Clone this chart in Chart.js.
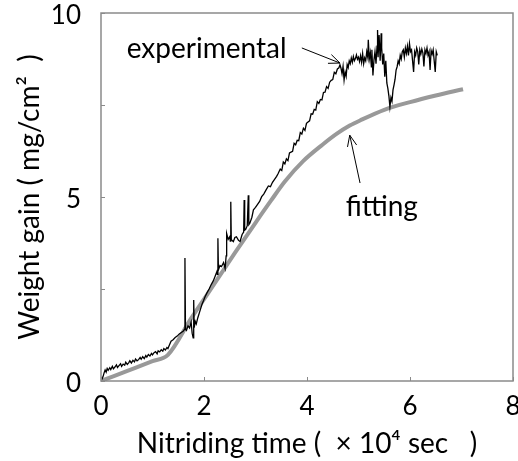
<!DOCTYPE html>
<html>
<head>
<meta charset="utf-8">
<script src="https://cdn.jsdelivr.net/npm/chart.js@4.4.0/dist/chart.umd.min.js"></script>
<style>
  html, body { margin: 0; padding: 0; background: #fff; }
  #wrap { width: 518px; height: 461px; }
</style>
</head>
<body>
<div id="wrap"><canvas id="chart" width="518" height="461"></canvas></div>
<script>
// experimental weight gain
const expTime = [
  0, 0.02, 0.04, 0.06, 0.08, 0.10, 0.12, 0.14, 0.17, 0.19, 0.22, 0.24, 0.27, 0.30, 0.32, 0.35, 0.38, 0.40, 0.43, 0.46,
  0.48, 0.51, 0.54, 0.56, 0.59, 0.62, 0.65, 0.67, 0.70, 0.73, 0.76, 0.78, 0.81, 0.84, 0.87, 0.89, 0.92, 0.95, 0.98, 1.00,
  1.03, 1.06, 1.09, 1.11, 1.14, 1.17, 1.20, 1.22, 1.25, 1.28, 1.30,
  1.32, 1.36, 1.40, 1.44, 1.48, 1.52, 1.56, 1.60, 1.62, 1.63, 1.64, 1.66, 1.69, 1.72, 1.75, 1.77, 1.79, 1.80, 1.81,
  1.83, 1.85, 1.88, 1.92, 1.96, 1.99,
  2.02, 2.06, 2.10, 2.14, 2.18, 2.22, 2.25, 2.26, 2.27, 2.28, 2.31, 2.34, 2.38, 2.41, 2.43, 2.44, 2.47, 2.50, 2.51,
  2.52, 2.53, 2.57, 2.60, 2.63, 2.67, 2.70, 2.74, 2.77, 2.78, 2.79, 2.81, 2.84, 2.86, 2.87, 2.89, 2.93, 2.96, 3.00,
  3.04, 3.08, 3.12, 3.16, 3.20, 3.25, 3.29, 3.33, 3.37, 3.41, 3.44,
  3.48, 3.51, 3.54, 3.57, 3.60, 3.63, 3.66, 3.69, 3.72, 3.75, 3.78, 3.81, 3.84, 3.87, 3.90, 3.93, 3.96, 3.99, 4.02, 4.05,
  4.08, 4.11, 4.14, 4.17, 4.20, 4.23, 4.26, 4.29, 4.32, 4.35, 4.38, 4.41, 4.44, 4.47, 4.50, 4.53, 4.56, 4.59, 4.62, 4.64,
  4.66, 4.68, 4.70, 4.72, 4.74, 4.76, 4.78, 4.80, 4.82, 4.84, 4.86, 4.88, 4.90, 4.92, 4.94, 4.96, 4.98, 5.00, 5.02, 5.04,
  5.06, 5.08, 5.10, 5.12, 5.14, 5.16, 5.18, 5.19, 5.21, 5.23, 5.25, 5.26, 5.28, 5.30, 5.32, 5.34, 5.36, 5.37, 5.38, 5.40,
  5.42, 5.44, 5.45, 5.47, 5.49, 5.51, 5.53, 5.55, 5.57, 5.59, 5.61, 5.63, 5.65, 5.67, 5.69, 5.71, 5.73, 5.75, 5.77, 5.79,
  5.81, 5.83, 5.85, 5.87, 5.89, 5.91, 5.93, 5.95, 5.97, 5.99, 6.01, 6.03, 6.05, 6.07, 6.09, 6.11, 6.13, 6.15, 6.17, 6.19,
  6.21, 6.23, 6.25, 6.27, 6.29, 6.31, 6.33, 6.35, 6.37, 6.39, 6.41, 6.43, 6.45, 6.47, 6.49, 6.51, 6.53
];
const expGain = [
  0.03, 0.05, 0.12, 0.22, 0.30, 0.24, 0.34, 0.29, 0.36, 0.31, 0.40, 0.33, 0.38, 0.44, 0.37, 0.42, 0.47, 0.40, 0.46, 0.43,
  0.51, 0.45, 0.50, 0.55, 0.49, 0.56, 0.52, 0.60, 0.55, 0.58, 0.64, 0.59, 0.66, 0.61, 0.69, 0.65, 0.72, 0.68, 0.75, 0.71,
  0.77, 0.80, 0.74, 0.82, 0.79, 0.85, 0.81, 0.88, 0.84, 0.91, 0.88,
  0.95, 1.08, 1.12, 1.18, 1.22, 1.28, 1.32, 1.36, 1.40, 3.34, 1.42, 1.38, 1.50, 1.44, 1.60, 1.30, 1.17, 2.20, 1.45,
  1.62, 1.55, 1.72, 1.90, 2.08, 2.18,
  2.29, 2.40, 2.50, 2.62, 2.72, 2.86, 2.97, 2.90, 3.88, 3.02, 3.14, 3.11, 3.22, 3.06, 3.40, 4.01, 3.85, 3.92, 3.80,
  4.87, 3.84, 3.79, 3.90, 3.92, 3.82, 3.79, 3.98, 4.05, 4.92, 4.10, 4.12, 4.22, 5.05, 4.25, 4.29, 4.45, 4.65, 4.72,
  4.80, 4.88, 5.01, 5.08, 5.18, 5.30, 5.28, 5.40, 5.48, 5.56, 5.64,
  5.76, 5.72, 5.95, 5.90, 6.04, 5.99, 6.20, 6.22, 6.24, 6.46, 6.42, 6.54, 6.53, 6.75, 6.71, 6.87, 6.81, 7.00, 7.04, 7.07,
  7.26, 7.25, 7.38, 7.36, 7.59, 7.54, 7.65, 7.64, 7.84, 7.85, 8.00, 7.95, 8.12, 8.17, 8.19, 8.39, 8.35, 8.48, 8.51, 8.59,
  8.50, 8.35, 8.55, 8.18, 8.40, 8.28, 8.60, 8.52, 8.70, 8.62, 8.78, 8.66, 8.82, 8.70, 8.76, 8.86, 8.74, 8.80, 8.68, 8.84,
  8.66, 8.90, 8.62, 8.78, 8.70, 8.95, 8.80, 9.27, 8.75, 8.92, 8.54, 9.00, 8.30, 8.72, 8.95, 8.62, 9.10, 9.54, 8.80, 9.40,
  8.70, 9.45, 9.05, 8.60, 8.90, 8.27, 8.70, 8.10, 7.95, 7.75, 7.45, 7.70, 7.60, 7.91, 8.05, 8.20, 8.45, 8.54, 8.70, 8.62,
  8.85, 8.75, 8.95, 9.00, 8.80, 9.05, 8.90, 9.10, 8.85, 9.17, 8.95, 9.00, 8.70, 8.40, 8.95, 8.85, 9.05, 8.95, 8.60, 9.00,
  8.88, 9.02, 8.92, 8.55, 9.00, 8.90, 9.05, 8.85, 8.95, 8.45, 8.98, 8.88, 9.00, 8.70, 8.40, 8.95, 8.85
];

// fitted curve
const fitTime = [0, 0.5, 1.0, 1.3, 1.75, 2.08, 2.6, 3.0, 3.3, 3.57, 3.93, 4.3, 4.58, 4.83, 5.03, 5.5, 6.0, 6.5, 7.03];
const fitGain = [0, 0.27, 0.54, 0.71, 1.70, 2.39, 3.48, 4.30, 4.90, 5.42, 5.98, 6.42, 6.72, 6.94, 7.08, 7.37, 7.58, 7.76, 7.93];

const xTicks = [0, 2, 4, 6, 8];
const yTicks = [0, 2.5, 5, 7.5, 10];
const yTickLabels = ['0', '', '5', '', '10'];

// annotations: label text, text anchor, arrow tail, arrow tip (data units)
const noteText = ['experimental', 'fitting'];
const noteAt = [[0.50, 8.78], [4.75, 4.48]];
const arrowFrom = [[3.90, 9.05], [5.03, 5.38]];
const arrowTo = [[4.64, 8.64], [4.83, 6.68]];

const FONT = 'Lato, "Open Sans", sans-serif';
const frameColor = '#8a8a8a';

const framePlugin = {
  id: 'frame',
  afterDatasetsDraw(chart) {
    const { ctx, chartArea: a, scales: { x, y } } = chart;
    ctx.save();
    ctx.strokeStyle = frameColor;
    ctx.lineWidth = 1.5;
    ctx.strokeRect(a.left, a.top, a.right - a.left, a.bottom - a.top);
    // inside tick marks
    ctx.lineWidth = 1;
    ctx.beginPath();
    xTicks.forEach((v) => {
      const px = Math.round(x.getPixelForValue(v)) + 0.5;
      ctx.moveTo(px, a.bottom);
      ctx.lineTo(px, a.bottom - 4);
    });
    yTicks.forEach((v) => {
      const py = Math.round(y.getPixelForValue(v)) + 0.5;
      ctx.moveTo(a.left, py);
      ctx.lineTo(a.left + 4, py);
    });
    ctx.stroke();

    // labels + arrows
    ctx.fillStyle = '#000';
    ctx.font = `28px ${FONT}`;
    ctx.textBaseline = 'alphabetic';
    ctx.textAlign = 'left';
    noteText.forEach((t, i) => {
      ctx.fillText(t, x.getPixelForValue(noteAt[i][0]), y.getPixelForValue(noteAt[i][1]));
      const x0 = x.getPixelForValue(arrowFrom[i][0]);
      const y0 = y.getPixelForValue(arrowFrom[i][1]);
      const x1 = x.getPixelForValue(arrowTo[i][0]);
      const y1 = y.getPixelForValue(arrowTo[i][1]);
      const ang = Math.atan2(y1 - y0, x1 - x0);
      ctx.strokeStyle = '#000';
      ctx.lineWidth = 1;
      ctx.beginPath();
      ctx.moveTo(x0, y0);
      ctx.lineTo(x1, y1);
      ctx.moveTo(x1 - 12 * Math.cos(ang - 0.4), y1 - 12 * Math.sin(ang - 0.4));
      ctx.lineTo(x1, y1);
      ctx.lineTo(x1 - 12 * Math.cos(ang + 0.4), y1 - 12 * Math.sin(ang + 0.4));
      ctx.stroke();
    });
    ctx.restore();
  },
};

new Chart(document.getElementById('chart'), {
  type: 'line',
  data: {
    datasets: [
      {
        label: 'experimental',
        data: expTime.map((t, i) => ({ x: t, y: expGain[i] })),
        borderColor: '#000',
        borderWidth: 1.3,
        pointRadius: 0,
        tension: 0,
        order: 0,
      },
      {
        label: 'fitting',
        data: fitTime.map((t, i) => ({ x: t, y: fitGain[i] })),
        borderColor: '#999',
        borderWidth: 4,
        pointRadius: 0,
        cubicInterpolationMode: 'monotone',
        order: 1,
      },
    ],
  },
  options: {
    responsive: false,
    animation: false,
    devicePixelRatio: 1,
    layout: { padding: { top: 13, right: 5, left: 0, bottom: 0 } },
    plugins: { legend: { display: false }, tooltip: { enabled: false } },
    scales: {
      x: {
        type: 'linear',
        min: 0,
        max: 8,
        afterBuildTicks: (s) => { s.ticks = xTicks.map((v) => ({ value: v })); },
        afterFit: (s) => { s.height = 80; s.paddingLeft = 0; s.paddingRight = 0; },
        grid: { display: false },
        border: { display: false },
        ticks: { color: '#000', font: { family: FONT, size: 26 }, padding: 2, maxRotation: 0 },
        title: {
          display: true,
          text: 'Nitriding time (  × 10⁴ sec   )',
          color: '#000',
          font: { family: FONT, size: 28 },
          padding: { top: 0, bottom: 0 },
        },
      },
      y: {
        type: 'linear',
        min: 0,
        max: 10,
        afterBuildTicks: (s) => { s.ticks = yTicks.map((v) => ({ value: v })); },
        afterFit: (s) => { s.width = 101; s.paddingTop = 0; s.paddingBottom = 0; },
        grid: { display: false },
        border: { display: false },
        ticks: {
          color: '#000',
          font: { family: FONT, size: 26 },
          padding: 12,
          labelOffset: 3,
          callback: (v) => yTickLabels[yTicks.indexOf(v)],
        },
        title: {
          display: true,
          text: 'Weight gain ( mg/cm²  )',
          color: '#000',
          font: { family: FONT, size: 28 },
          padding: { top: 13, bottom: 0 },
        },
      },
    },
  },
  plugins: [framePlugin],
});
</script>
</body>
</html>
